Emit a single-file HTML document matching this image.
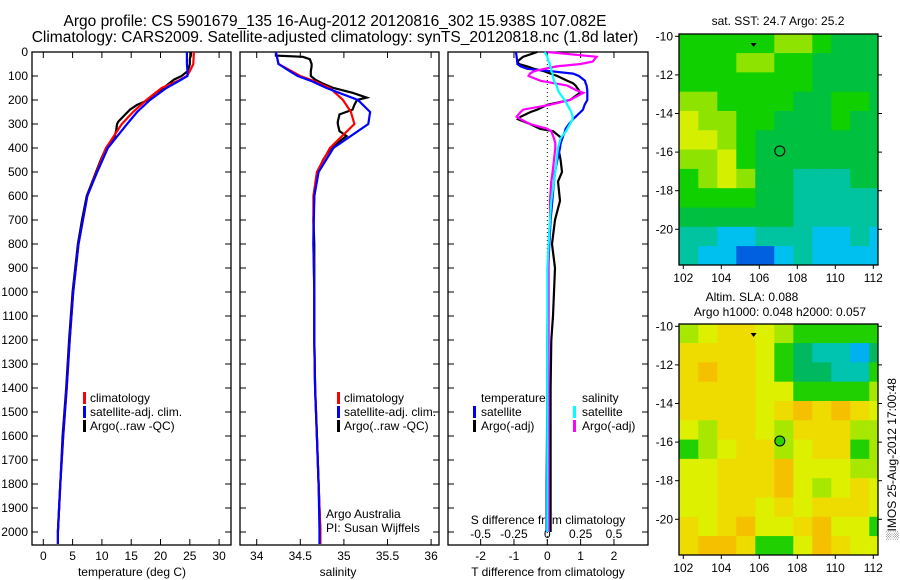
<!DOCTYPE html>
<html><head><meta charset="utf-8">
<style>
html,body{margin:0;padding:0;background:#fff;}
svg{display:block;font-family:"Liberation Sans",sans-serif;}
text{font-size:12px;fill:#000;}
</style></head>
<body>
<svg id="fig" width="900" height="580" viewBox="0 0 900 580">
<text x="335" y="26" text-anchor="middle" style="font-size:15.5px">Argo profile: CS 5901679_135 16-Aug-2012 20120816_302 15.938S 107.082E</text>
<text x="335" y="42" text-anchor="middle" style="font-size:15.5px">Climatology: CARS2009. Satellite-adjusted climatology: synTS_20120818.nc (1.8d later)</text>
</svg>
<script>
// ---------- data ----------
const depthTicks = [0,100,200,300,400,500,600,700,800,900,1000,1100,1200,1300,1400,1500,1600,1700,1800,1900,2000];
const tempTicks = [0,5,10,15,20,25,30];
const salTicks = [34,34.5,35,35.5,36];
const tdiffTicks = [-2,-1,0,1,2];
const sdiffTicks = [-0.5,-0.25,0,0.25,0.5];
const sdiffTickLabels = ['-0.5','-0.25','0','0.25','0.5'];

const climDepth = [0,50,80,100,120,150,200,250,300,400,500,600,800,1000,1200,1400,1600,1800,2000,2050];
const climTemp  = [25.7,25.6,25.0,24.5,23.0,20.2,17.6,15.3,13.4,10.7,9.1,7.5,6.0,5.1,4.5,4.0,3.4,2.9,2.5,2.5];
const satTemp   = [24.5,24.5,24.6,24.6,23.2,21.0,18.2,16.0,14.3,11.0,9.2,7.5,6.0,5.1,4.5,4.0,3.4,2.9,2.5,2.5];
const climSal   = [34.22,34.25,34.4,34.5,34.65,34.84,34.99,35.08,35.12,34.84,34.69,34.65,34.65,34.66,34.66,34.67,34.69,34.71,34.73,34.73];
const satSal    = [34.22,34.25,34.38,34.47,34.62,34.80,35.16,35.30,35.28,34.88,34.71,34.66,34.65,34.66,34.66,34.67,34.69,34.71,34.72,34.72];

const argoDepth = [0,15,20,30,50,60,80,100,115,130,150,170,190,200,220,240,260,290,300,330,350,400,450,500,600,700,800,1000,1200,1400,1600,1800,2000];
const argoTemp  = [25.2,25.2,25.1,25.0,25.0,24.9,24.6,23.6,22.3,21.5,20.5,19.2,18.3,17.9,16.0,14.8,14.0,12.8,12.6,12.4,12.2,10.7,9.8,9.0,7.4,6.6,5.9,5.0,4.4,3.9,3.3,2.9,2.5];
const argoSal   = [34.22,34.22,34.53,34.61,34.63,34.63,34.62,34.62,34.67,34.75,34.88,35.1,35.26,35.15,35.12,35.1,34.95,34.93,34.93,34.95,35.03,34.85,34.76,34.70,34.66,34.65,34.66,34.66,34.66,34.67,34.69,34.71,34.73];

const diffDepth = [0,20,40,50,60,70,80,90,100,120,130,140,160,170,200,220,240,250,270,280,300,320,330,360,380,400,450,500,540,620,700,800,900,1000,1100,1200,1400,1600,1800,2000];
const tSatDiff  = [-0.94,-0.92,-0.9,-0.9,-0.8,-0.6,0.1,0.77,0.95,1.13,1.15,1.18,1.2,1.2,1.2,1.12,1.07,1.0,0.85,0.77,0.65,0.55,0.53,0.45,0.4,0.38,0.3,0.23,0.2,0.15,0.1,0.06,0.03,0.02,0.01,0.0,0.0,-0.01,-0.02,-0.02];
const tArgoDiff = [-0.3,-0.73,-0.9,-0.85,-0.6,-0.4,-0.1,0.1,0.3,0.6,0.77,0.85,0.95,0.98,0.68,0.0,-0.3,-0.5,-0.8,-0.88,-0.52,-0.22,0.17,0.44,0.4,0.33,0.4,0.44,0.32,0.38,0.23,0.14,0.23,0.2,0.17,0.12,0.1,0.1,0.1,0.1];
const sSatDiff  = [-0.02,0.0,0.01,0.02,0.02,0.03,0.03,0.04,0.04,0.05,0.06,0.07,0.08,0.09,0.13,0.15,0.17,0.18,0.19,0.19,0.17,0.15,0.14,0.1,0.09,0.08,0.07,0.06,0.05,0.03,0.02,0.01,0.0,0.0,0.0,0.0,0.0,0.0,0.0,0.0];
const sArgoDiff = [0.0,0.37,0.34,0.25,0.07,-0.02,-0.1,-0.13,-0.14,-0.05,0.05,0.15,0.22,0.27,0.17,0.02,-0.18,-0.2,-0.23,-0.2,-0.13,0.0,0.03,0.05,0.06,0.06,0.05,0.04,0.03,0.02,0.02,0.01,0.01,0.01,0.01,0.01,0.01,0.01,0.01,0.01];

// map data (rows from lat -10 southward, cols from lon 102 eastward)
const sstGrid = [
 [2,2,2,2,2,1,1,2,3,3,3],
 [2,2,2,1,1,2,2,3,3,3,3],
 [2,2,2,2,2,2,2,3,3,3,3],
 [1,1,2,2,2,2,3,3,2,2,3],
 [0,1,1,2,2,3,3,3,2,3,3],
 [0,0,1,2,3,3,3,3,3,3,3],
 [1,1,0,2,3,3,3,3,3,3,3],
 [2,1,0,1,3,3,4,4,4,3,3],
 [2,2,2,2,3,3,4,4,4,4,4],
 [3,3,3,3,3,3,4,4,4,4,4],
 [4,4,5,5,4,4,4,5,5,4,5],
 [4,5,5,6,6,5,4,5,5,5,5]];
const slaGrid = [
 [3,2,1,1,2,3,4,4,4,4,4],
 [1,1,1,1,2,4,5,6,6,7,5],
 [1,0,1,1,2,4,5,5,6,6,4],
 [1,1,1,1,2,2,4,4,4,4,3],
 [1,1,1,1,2,1,0,1,0,1,2],
 [2,3,1,1,2,3,1,1,1,3,3],
 [4,3,2,1,1,3,2,1,1,4,3],
 [2,2,1,1,1,0,2,2,2,3,3],
 [2,2,1,1,1,0,2,3,2,1,2],
 [2,2,1,1,2,1,2,1,1,1,2],
 [1,2,1,0,2,2,1,0,2,2,4],
 [1,0,0,1,4,4,2,0,1,2,2]];
const sstColors = ['#d4f000','#8ee400','#10d000','#00c040','#00c4a0','#00c0f0','#0060e0'];
const slaColors = ['#f4c000','#eedc00','#dcf000','#a8e800','#20d000','#00b860','#00c4b0','#00b0f0'];
const mapLonTicks = [102,104,106,108,110,112];
const mapLatTicks = [-10,-12,-14,-16,-18,-20];
const argoLon = 107.08, argoLat = -15.94;

// ---------- helpers ----------
const svg = document.getElementById('fig');
const NS = 'http://www.w3.org/2000/svg';
function mk(tag, attrs, parent){
  const e = document.createElementNS(NS, tag);
  for (const k in attrs) e.setAttribute(k, attrs[k]);
  (parent||svg).appendChild(e);
  return e;
}
const yD = d => 52 + d*0.24;
const xT = t => 43.3 + t*5.86;
const xS = s => 256.7 + (s-34)*87.2;
const xTd = t => 547.3 + t*33.33;
const xSd = s => 547.3 + s*133.33;

function panelFrame(x0,x1,name){
  const r = mk('rect',{x:x0,y:52,width:x1-x0,height:493,fill:'none',stroke:'#000','stroke-width':1.3});
  
  
}
function depthTicksFor(x0,x1,labels){
  depthTicks.forEach(d=>{
    const y=yD(d);
    const t1=mk('line',{x1:x0,y1:y,x2:x0+6,y2:y,stroke:'#000'});
    
    
    const t2=mk('line',{x1:x1-6,y1:y,x2:x1,y2:y,stroke:'#000'});
    
    
    if(labels){
      const tx=mk('text',{x:x0-4,y:y+4,'text-anchor':'end'});
      tx.textContent=d;
      
      
    }
  });
}
function xTicksFor(ticks,fx,labelY,lbls,top){
  ticks.forEach((v,i)=>{
    const x=fx(v);
    const t=mk('line',{x1:x,y1:545,x2:x,y2:539,stroke:'#000'});
    
    
    if(top){
      const t2=mk('line',{x1:x,y1:52,x2:x,y2:58,stroke:'#000'});
      
      
    }
    if(labelY){
      const tx=mk('text',{x:x,y:labelY,'text-anchor':'middle'});
      tx.textContent = lbls ? lbls[i] : v;
      
      
    }
  });
}
function line(vals,depths,fx,color,name,w){
  const pts = vals.map((v,i)=>fx(v).toFixed(1)+','+yD(depths[i]).toFixed(1)).join(' ');
  const p=mk('polyline',{points:pts,fill:'none',stroke:color,'stroke-width':w||2.2,'stroke-linejoin':'miter'});
  
  
}
function label(x,y,str,name,anchor){
  const t=mk('text',{x:x,y:y,'text-anchor':anchor||'start'});
  t.textContent=str;
  
  
}
function legendBar(x,y,color,name){
  const r=mk('rect',{x:x,y:y-10,width:3,height:12,fill:color});
  
  
}

// ---------- panel 1 ----------
panelFrame(32,231,'temperature-panel');
depthTicksFor(32,231,true);
xTicksFor(tempTicks,xT,560,null,true);
label(132,576,'temperature (deg C)','temperature-axis-title','middle');
line(argoTemp,argoDepth,xT,'#000','argo-temperature-line');
line(climTemp,climDepth,xT,'#f00','climatology-temperature-line');
line(satTemp,climDepth,xT,'#00f','satellite-temperature-line');
legendBar(83,402,'#f00','legend-climatology-swatch'); label(90,402,'climatology','legend-climatology');
legendBar(83,416,'#00f','legend-satellite-swatch'); label(90,416,'satellite-adj. clim.','legend-satellite-adj');
legendBar(83,430,'#000','legend-argo-swatch'); label(90,430,'Argo(..raw -QC)','legend-argo');

// ---------- panel 2 ----------
panelFrame(240,439,'salinity-panel');
depthTicksFor(240,439,false);
xTicksFor(salTicks,xS,560,null,true);
label(338,576,'salinity','salinity-axis-title','middle');
line(argoSal,argoDepth,xS,'#000','argo-salinity-line');
line(climSal,climDepth,xS,'#f00','climatology-salinity-line');
line(satSal,climDepth,xS,'#00f','satellite-salinity-line');
legendBar(337,402,'#f00','legend2-climatology-swatch'); label(344,402,'climatology','legend2-climatology');
legendBar(337,416,'#00f','legend2-satellite-swatch'); label(344,416,'satellite-adj. clim.','legend2-satellite-adj');
legendBar(337,430,'#000','legend2-argo-swatch'); label(344,430,'Argo(..raw -QC)','legend2-argo');
label(326,518,'Argo Australia','credit-argo-australia');
label(326,532,'PI: Susan Wijffels','credit-pi');

// ---------- panel 3 ----------
panelFrame(448,648,'difference-panel');
depthTicksFor(448,648,false);
xTicksFor(tdiffTicks,xTd,560,null,true);
sdiffTicks.forEach((v,i)=>{
  const tx=mk('text',{x:xSd(v),y:538,'text-anchor':'middle'});
  tx.textContent=sdiffTickLabels[i];
  
  
});
const zl=mk('line',{x1:xTd(0),y1:52,x2:xTd(0),y2:545,stroke:'#000','stroke-dasharray':'1,3'});


label(548,524,'S difference from climatology','s-diff-axis-title','middle');
label(548,576,'T difference from climatology','t-diff-axis-title','middle');
line(tArgoDiff,diffDepth,xTd,'#000','argo-t-diff-line');
line(tSatDiff,diffDepth,xTd,'#00f','satellite-t-diff-line');
line(sArgoDiff,diffDepth,xSd,'#f0f','argo-s-diff-line');
line(sSatDiff,diffDepth,xSd,'#0ff','satellite-s-diff-line');
label(481,402,'temperature','legend3-temperature-heading');
label(582,402,'salinity','legend3-salinity-heading');
legendBar(473,416,'#00f','legend3-t-satellite-swatch'); label(481,416,'satellite','legend3-t-satellite');
legendBar(473,430,'#000','legend3-t-argo-swatch'); label(481,430,'Argo(-adj)','legend3-t-argo');
legendBar(573,416,'#0ff','legend3-s-satellite-swatch'); label(582,416,'satellite','legend3-s-satellite');
legendBar(573,430,'#f0f','legend3-s-argo-swatch'); label(582,430,'Argo(-adj)','legend3-s-argo');

// ---------- maps ----------
function drawMap(y0,grid,colors,name,filledCircle){
  const x0=679,x1=878,y1=y0+231;
  const xL = lon => 683.3 + (lon-102)*19;
  const yL = lat => y0+2.3 + (-10-lat)*19.3;
  const g=mk('g',{});
  
  
  const cid='clip'+y0;
  const cp=mk('clipPath',{id:cid},g); mk('rect',{x:x0,y:y0,width:x1-x0,height:y1-y0},cp);
  const cells=mk('g',{'clip-path':'url(#'+cid+')'},g);
  grid.forEach((row,r)=>row.forEach((v,c)=>{
    const rc=mk('rect',{x:xL(101.8+c)-0.2,y:yL(-9.88-r)-0.2,width:19.6,height:19.7,fill:colors[v]},cells);
    
    
  }));
  const fr=mk('rect',{x:x0,y:y0,width:x1-x0,height:y1-y0,fill:'none',stroke:'#000','stroke-width':1.3},g);
  
  
  mapLonTicks.forEach(v=>{
    mk('line',{x1:xL(v),y1:y1,x2:xL(v),y2:y1+4,stroke:'#000'},g);
    const t=mk('text',{x:xL(v),y:y1+17,'text-anchor':'middle'},g); t.textContent=v;
    
    
  });
  mapLatTicks.forEach(v=>{
    mk('line',{x1:x0-4,y1:yL(v),x2:x0,y2:yL(v),stroke:'#000'},g);
    mk('line',{x1:x1,y1:yL(v),x2:x1+4,y2:yL(v),stroke:'#000'},g);
    const t=mk('text',{x:x0-6,y:yL(v)+4,'text-anchor':'end'},g); t.textContent=v;
    
    
  });
  const c=mk('circle',{cx:xL(argoLon),cy:yL(argoLat),r:5,fill:filledCircle?'#30d000':'none',stroke:'#000','stroke-width':1},g);
  
  
  const tr=mk('path',{d:'M'+(xL(105.7)-3)+','+(yL(-10.45)-2)+' h6 l-3,4 z',fill:'#000'},g);
  
  
}
drawMap(34,sstGrid,sstColors,'sst-map',false);
drawMap(324,slaGrid,slaColors,'sla-map',true);
label(778,25,'sat. SST: 24.7 Argo: 25.2','sst-map-title','middle');
label(752,301,'Altim. SLA: 0.088','sla-map-title','middle');
label(780,316,'Argo h1000: 0.048 h2000: 0.057','sla-map-subtitle','middle');
const side=mk('text',{x:0,y:0,'text-anchor':'middle',transform:'translate(896,459) rotate(-90)'});
side.textContent='\u2591IMOS 25-Aug-2012 17:00:48';


</script>
</body></html>
